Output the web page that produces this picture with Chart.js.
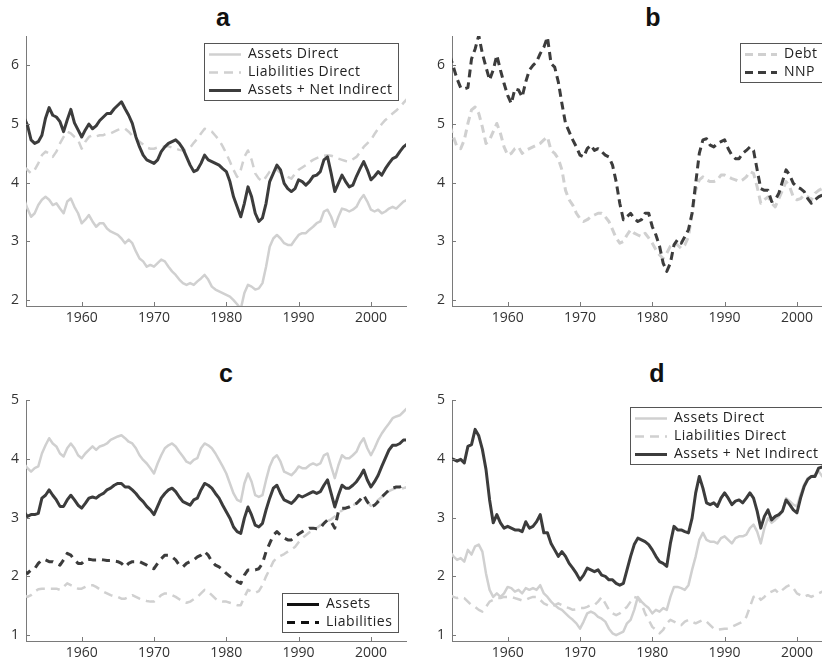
<!DOCTYPE html>
<html>
<head>
<meta charset="utf-8">
<script src="https://cdn.jsdelivr.net/npm/chart.js@4.4.0/dist/chart.umd.min.js"></script>
<style>
  html, body { margin: 0; padding: 0; background: #fff; overflow: hidden; width: 822px; height: 666px; }
  canvas { position: absolute; }
  .ttl { position: absolute; height: 25px; line-height: 25px; font: bold 25px "Liberation Sans", Arial, sans-serif; color: #111; transform: translateX(-50%); }
</style>
</head>
<body>
<div class="ttl" style="left:223px;top:3px">a</div>
<div class="ttl" style="left:653px;top:3px">b</div>
<div class="ttl" style="left:226px;top:359px">c</div>
<div class="ttl" style="left:657px;top:359px">d</div>
<canvas id="chartA" width="420" height="335" style="left:0;top:0"></canvas>
<canvas id="chartB" width="420" height="335" style="left:426px;top:0"></canvas>
<canvas id="chartC" width="420" height="336" style="left:0;top:330px"></canvas>
<canvas id="chartD" width="420" height="336" style="left:426px;top:330px"></canvas>
<script>
// x grid: half-year steps 1952 .. 2005
const years = [];
for (let y = 1952; y <= 2005; y += 0.5) years.push(y);

const xTicks = [1960, 1970, 1980, 1990, 2000];
const yTicksTop = [2, 3, 4, 5, 6];
const yTicksBottom = [1, 2, 3, 4, 5];

// panel a
const aNet = [
  5.12, 4.98, 4.73, 4.67, 4.70, 4.81, 5.10, 5.28, 5.15, 5.12,
  5.04, 4.87, 5.07, 5.25, 5.02, 4.90, 4.78, 4.90, 5.00, 4.92,
  4.97, 5.06, 5.12, 5.18, 5.18, 5.26, 5.32, 5.38, 5.26, 5.15,
  5.01, 4.78, 4.61, 4.47, 4.39, 4.36, 4.33, 4.39, 4.53, 4.61,
  4.67, 4.70, 4.73, 4.67, 4.58, 4.44, 4.30, 4.19, 4.22, 4.33,
  4.47, 4.39, 4.36, 4.33, 4.30, 4.24, 4.19, 4.02, 3.76, 3.59,
  3.42, 3.65, 3.93, 3.76, 3.48, 3.34, 3.40, 3.65, 4.02, 4.16,
  4.30, 4.22, 3.99, 3.90, 3.85, 3.90, 4.05, 4.02, 3.96, 4.02,
  4.11, 4.13, 4.19, 4.39, 4.44, 4.16, 3.85, 3.99, 4.13, 4.02,
  3.93, 3.96, 4.11, 4.24, 4.36, 4.22, 4.05, 4.11, 4.19, 4.13,
  4.24, 4.33, 4.41, 4.44, 4.53, 4.61, 4.66
];
const aAssets = [
  3.73, 3.56, 3.42, 3.48, 3.62, 3.71, 3.76, 3.71, 3.62, 3.65,
  3.56, 3.48, 3.68, 3.73, 3.59, 3.48, 3.31, 3.37, 3.45, 3.34,
  3.25, 3.31, 3.31, 3.22, 3.17, 3.14, 3.11, 3.05, 2.97, 3.03,
  2.97, 2.83, 2.71, 2.66, 2.57, 2.60, 2.57, 2.63, 2.69, 2.66,
  2.57, 2.49, 2.43, 2.35, 2.29, 2.26, 2.29, 2.26, 2.32, 2.37,
  2.43, 2.35, 2.23, 2.18, 2.15, 2.12, 2.09, 2.06, 2.00, 1.93,
  1.85, 2.12, 2.26, 2.23, 2.18, 2.20, 2.29, 2.57, 2.91, 3.05,
  3.11, 3.05, 2.97, 2.94, 2.94, 3.03, 3.11, 3.14, 3.14, 3.20,
  3.25, 3.31, 3.34, 3.51, 3.54, 3.42, 3.25, 3.42, 3.56, 3.54,
  3.51, 3.54, 3.59, 3.71, 3.79, 3.68, 3.54, 3.51, 3.54, 3.48,
  3.51, 3.56, 3.59, 3.56, 3.62, 3.68, 3.71
];
const aLiab = [
  4.27, 4.22, 4.16, 4.22, 4.33, 4.47, 4.53, 4.50, 4.44, 4.53,
  4.67, 4.78, 4.87, 4.84, 4.78, 4.73, 4.58, 4.70, 4.78, 4.81,
  4.79, 4.81, 4.81, 4.84, 4.84, 4.87, 4.90, 4.92, 4.92, 4.87,
  4.80, 4.75, 4.70, 4.65, 4.60, 4.58, 4.58, 4.60, 4.60, 4.62,
  4.62, 4.60, 4.58, 4.56, 4.55, 4.56, 4.60, 4.68, 4.75, 4.84,
  4.92, 4.90, 4.87, 4.80, 4.73, 4.62, 4.50, 4.36, 4.22, 4.10,
  4.22, 4.44, 4.55, 4.39, 4.16, 4.07, 4.02, 4.10, 4.19, 4.24,
  4.22, 4.17, 4.13, 4.10, 4.07, 4.15, 4.22, 4.26, 4.30, 4.35,
  4.39, 4.42, 4.44, 4.46, 4.47, 4.46, 4.44, 4.41, 4.39, 4.37,
  4.36, 4.40, 4.44, 4.52, 4.61, 4.67, 4.73, 4.83, 4.92, 5.00,
  5.07, 5.12, 5.18, 5.23, 5.29, 5.36, 5.43
];

// panel b
const bNnp = [
  6.17, 5.97, 5.77, 5.62, 5.60, 5.62, 6.11, 6.28, 6.51, 6.20,
  5.97, 5.75, 5.92, 6.17, 5.92, 5.69, 5.49, 5.35, 5.60, 5.58,
  5.46, 5.72, 5.92, 6.00, 6.06, 6.20, 6.31, 6.48, 6.03, 5.97,
  5.72, 5.35, 5.01, 4.87, 4.73, 4.61, 4.47, 4.44, 4.58, 4.64,
  4.55, 4.58, 4.53, 4.47, 4.44, 4.30, 4.02, 3.65, 3.37, 3.42,
  3.48, 3.39, 3.34, 3.37, 3.48, 3.48, 3.25, 3.11, 2.92, 2.63,
  2.49, 2.63, 2.94, 3.03, 2.97, 3.08, 3.20, 3.48, 3.99, 4.50,
  4.73, 4.75, 4.64, 4.61, 4.67, 4.70, 4.73, 4.58, 4.47, 4.41,
  4.41, 4.50, 4.55, 4.61, 4.55, 4.22, 3.90, 3.87, 3.87, 3.68,
  3.71, 3.82, 4.02, 4.22, 4.13, 3.99, 3.93, 3.90, 3.85, 3.73,
  3.65, 3.71, 3.76, 3.79, 3.82, 3.85, 3.87
];
const bDebt = [
  4.98, 4.78, 4.61, 4.58, 4.73, 5.01, 5.24, 5.29, 5.18, 4.95,
  4.67, 4.73, 4.87, 5.01, 4.84, 4.61, 4.47, 4.50, 4.58, 4.61,
  4.50, 4.55, 4.58, 4.61, 4.64, 4.67, 4.73, 4.78, 4.55, 4.50,
  4.41, 4.22, 3.87, 3.71, 3.62, 3.48, 3.39, 3.34, 3.37, 3.42,
  3.45, 3.48, 3.48, 3.42, 3.34, 3.20, 3.06, 2.97, 3.00, 3.11,
  3.20, 3.14, 3.11, 3.08, 3.14, 3.06, 2.97, 2.86, 2.77, 2.71,
  2.80, 2.92, 2.97, 2.94, 2.88, 2.94, 3.08, 3.48, 3.87, 4.05,
  4.10, 4.05, 4.02, 4.02, 4.05, 4.13, 4.13, 4.10, 4.07, 4.05,
  4.02, 4.05, 4.10, 4.19, 4.16, 3.93, 3.65, 3.71, 3.76, 3.65,
  3.59, 3.73, 3.87, 4.02, 3.93, 3.76, 3.71, 3.73, 3.79, 3.76,
  3.71, 3.82, 3.87, 3.90, 3.90, 3.93, 3.93
];

// panel c
const cAssetsDirect = [
  3.92, 3.84, 3.78, 3.84, 3.87, 4.09, 4.23, 4.35, 4.26, 4.21,
  4.09, 4.04, 4.18, 4.26, 4.18, 4.06, 4.01, 4.09, 4.15, 4.21,
  4.15, 4.21, 4.23, 4.26, 4.32, 4.35, 4.38, 4.40, 4.35, 4.29,
  4.26, 4.18, 4.06, 3.98, 3.92, 3.84, 3.75, 3.92, 4.06, 4.18,
  4.23, 4.26, 4.21, 4.12, 4.04, 3.95, 3.92, 3.98, 4.01, 4.18,
  4.26, 4.23, 4.18, 4.09, 3.98, 3.87, 3.75, 3.58, 3.41, 3.30,
  3.27, 3.58, 3.75, 3.61, 3.38, 3.35, 3.38, 3.64, 3.87, 4.01,
  4.06, 3.95, 3.78, 3.75, 3.72, 3.78, 3.87, 3.84, 3.84, 3.89,
  3.92, 3.89, 3.92, 4.06, 4.09, 3.87, 3.67, 3.89, 4.06, 4.01,
  4.01, 4.06, 4.12, 4.26, 4.35, 4.18, 4.06, 4.18, 4.32, 4.43,
  4.52, 4.60, 4.69, 4.72, 4.74, 4.80, 4.86
];
const cAssets = [
  3.10, 3.02, 3.05, 3.05, 3.07, 3.33, 3.38, 3.47, 3.38, 3.30,
  3.19, 3.19, 3.30, 3.38, 3.30, 3.21, 3.16, 3.24, 3.33, 3.35,
  3.33, 3.38, 3.41, 3.47, 3.50, 3.55, 3.58, 3.58, 3.52, 3.52,
  3.47, 3.41, 3.33, 3.27, 3.19, 3.13, 3.05, 3.19, 3.33, 3.41,
  3.47, 3.50, 3.44, 3.35, 3.27, 3.24, 3.21, 3.30, 3.33, 3.47,
  3.58, 3.55, 3.50, 3.41, 3.33, 3.21, 3.10, 2.99, 2.84, 2.76,
  2.73, 2.99, 3.18, 3.04, 2.87, 2.84, 2.90, 3.13, 3.33, 3.50,
  3.55, 3.41, 3.30, 3.27, 3.24, 3.30, 3.38, 3.35, 3.38, 3.41,
  3.44, 3.41, 3.44, 3.55, 3.64, 3.41, 3.18, 3.38, 3.55, 3.50,
  3.50, 3.55, 3.61, 3.70, 3.81, 3.64, 3.52, 3.61, 3.72, 3.87,
  4.01, 4.15, 4.23, 4.23, 4.26, 4.32, 4.32
];
const cLiab = [
  2.08, 2.05, 2.11, 2.13, 2.22, 2.28, 2.28, 2.25, 2.25, 2.22,
  2.19, 2.28, 2.39, 2.36, 2.28, 2.22, 2.22, 2.28, 2.29, 2.28,
  2.28, 2.29, 2.28, 2.27, 2.27, 2.26, 2.25, 2.22, 2.16, 2.22,
  2.25, 2.25, 2.25, 2.22, 2.19, 2.15, 2.13, 2.22, 2.30, 2.36,
  2.36, 2.33, 2.28, 2.19, 2.16, 2.22, 2.25, 2.28, 2.33, 2.36,
  2.42, 2.36, 2.25, 2.19, 2.16, 2.11, 2.05, 2.00, 1.96, 1.91,
  1.88, 2.02, 2.11, 2.11, 2.11, 2.13, 2.22, 2.42, 2.56, 2.70,
  2.76, 2.70, 2.65, 2.62, 2.62, 2.67, 2.72, 2.76, 2.79, 2.82,
  2.82, 2.81, 2.82, 2.90, 2.96, 2.93, 2.82, 3.10, 3.16, 3.16,
  3.18, 3.21, 3.24, 3.30, 3.38, 3.27, 3.18, 3.21, 3.27, 3.35,
  3.41, 3.47, 3.50, 3.52, 3.52, 3.55, 3.58
];
const cLiabDirect = [
  1.68, 1.65, 1.68, 1.74, 1.78, 1.79, 1.79, 1.79, 1.79, 1.79,
  1.77, 1.82, 1.88, 1.85, 1.82, 1.79, 1.79, 1.82, 1.85, 1.85,
  1.82, 1.78, 1.74, 1.71, 1.68, 1.66, 1.65, 1.62, 1.62, 1.65,
  1.68, 1.65, 1.62, 1.60, 1.58, 1.57, 1.57, 1.62, 1.68, 1.71,
  1.71, 1.68, 1.65, 1.61, 1.57, 1.55, 1.57, 1.61, 1.65, 1.71,
  1.77, 1.74, 1.68, 1.62, 1.58, 1.57, 1.57, 1.55, 1.53, 1.51,
  1.51, 1.65, 1.77, 1.74, 1.72, 1.75, 1.85, 2.00, 2.12, 2.25,
  2.32, 2.35, 2.38, 2.42, 2.46, 2.50, 2.58, 2.65, 2.70, 2.75,
  2.78, 2.82, 2.87, 2.91, 2.94, 2.97, 3.02, 3.08, 3.12, 3.16,
  3.19, 3.21, 3.24, 3.30, 3.33, 3.27, 3.20, 3.24, 3.30, 3.35,
  3.41, 3.45, 3.48, 3.50, 3.50, 3.50, 3.52
];

// panel d
const dNet = [
  4.01, 3.99, 3.96, 3.99, 3.93, 4.21, 4.24, 4.50, 4.39, 4.16,
  3.82, 3.30, 2.91, 3.05, 2.91, 2.82, 2.85, 2.82, 2.79, 2.79,
  2.76, 2.93, 2.82, 2.85, 2.93, 3.05, 2.74, 2.74, 2.56, 2.45,
  2.34, 2.42, 2.34, 2.22, 2.14, 2.05, 1.94, 2.02, 2.14, 2.11,
  2.08, 2.11, 2.02, 2.00, 1.94, 1.94, 1.88, 1.85, 1.88, 2.11,
  2.34, 2.54, 2.65, 2.62, 2.59, 2.54, 2.45, 2.34, 2.25, 2.22,
  2.17, 2.56, 2.85, 2.79, 2.79, 2.76, 2.74, 2.99, 3.42, 3.70,
  3.50, 3.25, 3.22, 3.25, 3.19, 3.33, 3.42, 3.33, 3.22, 3.28,
  3.30, 3.25, 3.33, 3.42, 3.33, 3.11, 2.82, 3.02, 3.13, 2.96,
  3.02, 3.05, 3.11, 3.30, 3.22, 3.13, 3.08, 3.33, 3.53, 3.65,
  3.70, 3.70, 3.84, 3.86, 3.87, 3.90, 3.93
];
const dAssets = [
  2.42, 2.34, 2.28, 2.31, 2.25, 2.45, 2.37, 2.51, 2.54, 2.42,
  2.05, 1.77, 1.65, 1.71, 1.65, 1.71, 1.82, 1.80, 1.74, 1.77,
  1.71, 1.80, 1.77, 1.80, 1.77, 1.85, 1.71, 1.65, 1.57, 1.51,
  1.46, 1.43, 1.37, 1.31, 1.26, 1.20, 1.11, 1.23, 1.37, 1.40,
  1.37, 1.31, 1.28, 1.23, 1.11, 1.03, 1.00, 1.03, 1.06, 1.20,
  1.26, 1.43, 1.65, 1.57, 1.51, 1.46, 1.37, 1.43, 1.40, 1.46,
  1.43, 1.65, 1.82, 1.82, 1.80, 1.77, 1.85, 2.11, 2.34, 2.62,
  2.74, 2.62, 2.59, 2.59, 2.56, 2.65, 2.68, 2.62, 2.56, 2.65,
  2.68, 2.68, 2.71, 2.82, 2.88, 2.76, 2.56, 2.82, 2.99, 2.91,
  2.96, 3.02, 3.11, 3.33, 3.28, 3.22, 3.19, 3.39, 3.56, 3.67,
  3.70, 3.73, 3.79, 3.70, 3.70, 3.70, 3.70
];
const dLiab = [
  1.68, 1.65, 1.63, 1.65, 1.63, 1.57, 1.51, 1.48, 1.43, 1.40,
  1.48, 1.57, 1.60, 1.63, 1.63, 1.65, 1.65, 1.65, 1.63, 1.61,
  1.59, 1.60, 1.63, 1.65, 1.65, 1.60, 1.54, 1.51, 1.48, 1.51,
  1.54, 1.51, 1.48, 1.46, 1.43, 1.44, 1.46, 1.46, 1.48, 1.51,
  1.51, 1.57, 1.65, 1.54, 1.43, 1.37, 1.34, 1.37, 1.43, 1.48,
  1.57, 1.65, 1.63, 1.54, 1.37, 1.26, 1.14, 1.09, 1.03, 1.09,
  1.20, 1.26, 1.23, 1.20, 1.17, 1.23, 1.26, 1.23, 1.20, 1.23,
  1.26, 1.23, 1.17, 1.11, 1.09, 1.10, 1.11, 1.11, 1.14, 1.17,
  1.20, 1.23, 1.31, 1.48, 1.65, 1.68, 1.60, 1.65, 1.71, 1.74,
  1.77, 1.71, 1.77, 1.82, 1.85, 1.80, 1.71, 1.68, 1.65, 1.68,
  1.65, 1.68, 1.71, 1.74, 1.74, 1.77, 1.77
];

const DARK = '#3c3c3c';
const LIGHT = '#d0d0d0';
const AXIS = '#7a7a7a';
const FONT = '"Open Sans", "DejaVu Sans", sans-serif';

function series(label, values, color, width, dash, order, legendRow, legendColor) {
  return {
    label,
    data: years.map((x, i) => ({ x, y: values[i] })),
    borderColor: color,
    borderWidth: width,
    borderDash: dash,
    borderCapStyle: 'butt',
    borderJoinStyle: 'round',
    pointRadius: 0,
    tension: 0,
    fill: false,
    order,
    legendRow,
    legendColor
  };
}

// inward tick marks and the boxed legend
const frame = {
  id: 'frame',
  afterDatasetsDraw(chart) {
    const { ctx, chartArea: area, scales: { x, y } } = chart;
    const where = chart.options.plugins.frame.legendAt;
    ctx.save();
    ctx.strokeStyle = AXIS;
    ctx.lineWidth = 1;
    ctx.beginPath();
    x.ticks.forEach(t => {
      const p = Math.round(x.getPixelForValue(t.value)) + 0.5;
      ctx.moveTo(p, area.bottom); ctx.lineTo(p, area.bottom - 4);
    });
    y.ticks.forEach(t => {
      const p = Math.round(y.getPixelForValue(t.value)) + 0.5;
      ctx.moveTo(area.left, p); ctx.lineTo(area.left + 4, p);
    });
    ctx.stroke();

    const items = chart.data.datasets.filter(d => d.legendRow !== undefined)
      .sort((a, b) => a.legendRow - b.legendRow);
    ctx.font = '14px ' + FONT;
    ctx.letterSpacing = '0.5px';
    const tw = Math.max(...items.map(d => ctx.measureText(d.label).width));
    const w = Math.round(44 + tw + 6), h = items.length * 18 + 3;
    const left = Math.round(area.right - 8 - w);
    const top = Math.round(where === 'bottom' ? area.bottom - 9 - h : area.top + 7);
    ctx.fillStyle = '#fff';
    ctx.fillRect(left, top, w, h);
    ctx.strokeStyle = '#555';
    ctx.strokeRect(left + 0.5, top + 0.5, w, h);
    items.forEach((d, i) => {
      const cy = top + 11.5 + i * 18;
      ctx.beginPath();
      ctx.setLineDash(d.borderDash || []);
      ctx.strokeStyle = d.legendColor || d.borderColor;
      ctx.lineWidth = d.borderWidth;
      ctx.moveTo(left + 5, cy); ctx.lineTo(left + 37, cy);
      ctx.stroke();
      ctx.setLineDash([]);
      ctx.fillStyle = '#222';
      ctx.textBaseline = 'middle';
      ctx.fillText(d.label, left + 44, cy);
    });
    ctx.restore();
  }
};

function makeChart(id, datasets, yMin, yMax, yTicks, padTop, xHeight, legendAt) {
  return new Chart(document.getElementById(id), {
    type: 'line',
    data: { datasets },
    plugins: [frame],
    options: {
      responsive: false,
      animation: false,
      devicePixelRatio: 1,
      events: [],
      layout: { padding: { left: 0, top: padTop, right: 14, bottom: 0 } },
      plugins: { legend: { display: false }, tooltip: { enabled: false }, frame: { legendAt } },
      scales: {
        x: {
          type: 'linear', min: 1952.3, max: 2004.85,
          afterBuildTicks: s => { s.ticks = xTicks.map(v => ({ value: v })); },
          afterFit: s => { s.height = xHeight; },
          grid: { display: false, drawTicks: false },
          border: { display: true, color: AXIS, width: 1 },
          ticks: { padding: 4, color: '#333', font: { family: FONT, size: 14 }, maxRotation: 0, autoSkip: false, callback: v => String(v) }
        },
        y: {
          type: 'linear', min: yMin, max: yMax,
          afterBuildTicks: s => { s.ticks = yTicks.map(v => ({ value: v })); },
          afterFit: s => { s.width = 26; },
          grid: { display: false, drawTicks: false },
          border: { display: true, color: AXIS, width: 1 },
          ticks: { padding: 7, color: '#333', font: { family: FONT, size: 14 }, callback: v => String(v) }
        }
      }
    }
  });
}

makeChart('chartA', [
  series('Assets + Net Indirect', aNet, DARK, 3, [], 0, 2),
  series('Liabilities Direct', aLiab, LIGHT, 2.5, [9, 6], 1, 1),
  series('Assets Direct', aAssets, LIGHT, 2.5, [], 2, 0)
], 1.9, 6.5, yTicksTop, 36, 29, 'top');

makeChart('chartB', [
  series('NNP', bNnp, DARK, 3, [8, 5], 0, 1),
  series('Debt', bDebt, LIGHT, 3, [8, 5], 1, 0)
], 1.9, 6.5, yTicksTop, 36, 29, 'top');

makeChart('chartC', [
  series('Assets', cAssets, DARK, 3, [], 0, 0, '#111'),
  series('Liabilities', cLiab, DARK, 3, [8, 6], 1, 1, '#111'),
  series('Assets Direct', cAssetsDirect, LIGHT, 2.5, [], 2),
  series('Liabilities Direct', cLiabDirect, LIGHT, 2.5, [9, 6], 3)
], 0.9, 5, yTicksBottom, 70, 25, 'bottom');

makeChart('chartD', [
  series('Assets + Net Indirect', dNet, DARK, 3, [], 0, 2),
  series('Liabilities Direct', dLiab, LIGHT, 2.5, [9, 6], 1, 1),
  series('Assets Direct', dAssets, LIGHT, 2.5, [], 2, 0)
], 0.9, 5, yTicksBottom, 70, 25, 'top');
</script>
</body>
</html>
